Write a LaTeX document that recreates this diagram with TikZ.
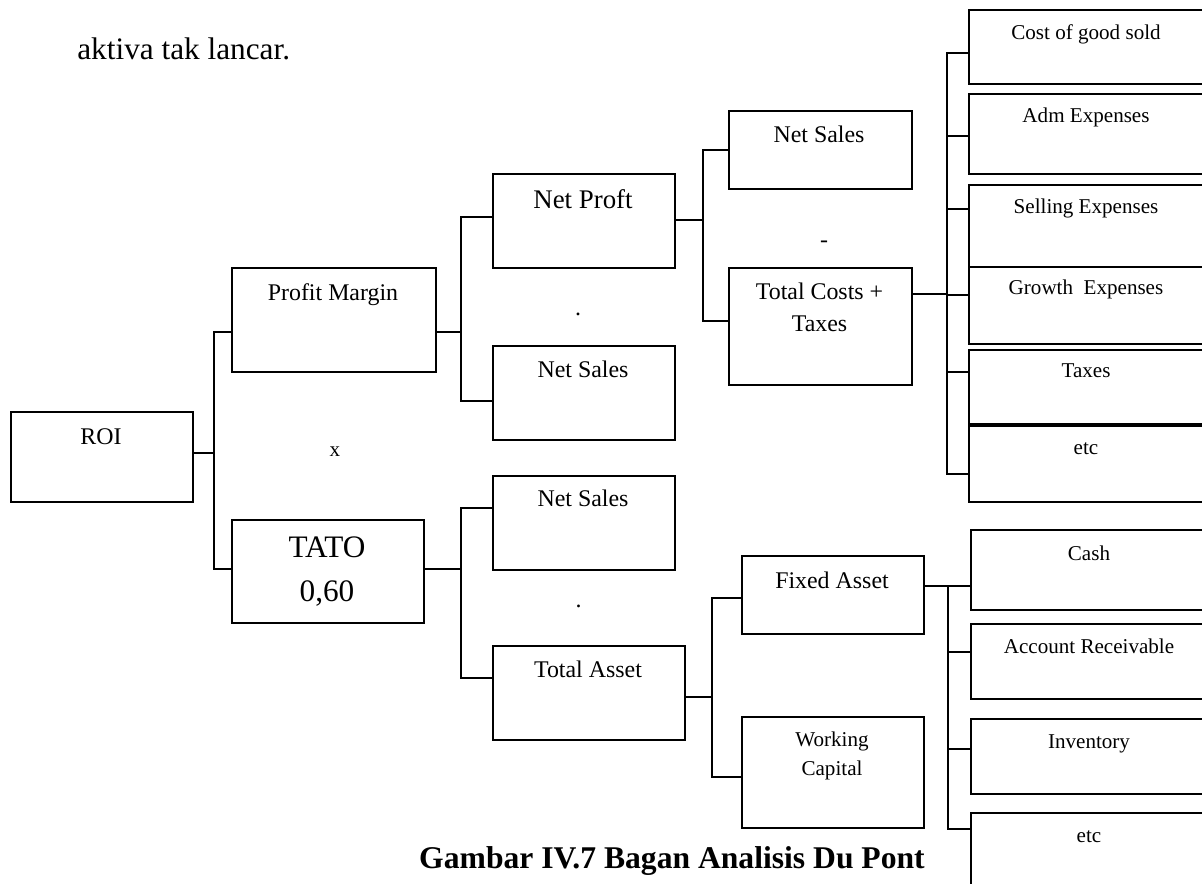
\documentclass[tikz,border=0pt]{standalone}
\usepackage{fontspec}
\setmainfont{Liberation Serif}
\newcommand{\pxl}{0.02cm}
\tikzset{
  box/.style n args={2}{draw, line width=1.1pt, inner sep=0pt, anchor=north west,
    minimum width=#1*\pxl, minimum height=#2*\pxl},
  conn/.style={line width=1.1pt, line cap=rect},
  txt/.style={inner sep=0pt, anchor=base},
  big/.style={txt, font=\fontsize{17.8}{24.5}\selectfont},
  npf/.style={txt, font=\fontsize{15.3}{20}\selectfont},
  mid/.style={txt, font=\fontsize{13.6}{18.6}\selectfont},
  sml/.style={txt, font=\fontsize{12}{16.5}\selectfont},
}
\begin{document}
\begin{tikzpicture}[x=\pxl, y=-\pxl]
\useasboundingbox (0,0) rectangle (1202,884);
\clip (0,0) rectangle (1202,884);
% boxes
\node[box={182}{90}] (roi) at (10,411) {};
\node[box={204}{104}] (pm) at (231,267) {};
\node[box={192}{103}] (tato) at (231,519) {};
\node[box={182}{94}] (netp) at (492,173) {};
\node[box={182}{94}] (ns1) at (492,345) {};
\node[box={182}{94}] (ns2) at (492,475) {};
\node[box={192}{94}] (tast) at (492,645) {};
\node[box={183}{78}] (nsr) at (728,110) {};
\node[box={183}{117}] (tc) at (728,267) {};
\node[box={182}{78}] (fa) at (741,555) {};
\node[box={182}{111}] (wc) at (741,716) {};
\node[box={240}{74}] (cogs) at (968,9) {};
\node[box={240}{80}] (adm) at (968,93) {};
\node[box={240}{82}] (sell) at (968,184) {};
\node[box={240}{77}] (grow) at (968,266) {};
\node[box={240}{74}] (tax) at (968,349) {};
\node[box={240}{76}] (etc1) at (968,425) {};
\node[box={240}{80}] (cash) at (970,529) {};
\node[box={240}{75}] (ar) at (970,623) {};
\node[box={240}{75}] (inv) at (970,718) {};
\node[box={240}{100}] (etc2) at (970,812) {};
% texts (two-line texts sit on their last baseline)
\node[big, anchor=base west] (akt) at (77,60) {aktiva tak lancar.};
\node[mid] (roiT) at (101,444) {ROI};
\node[mid] (pmT) at (333,301) {Profit Margin};
\node[big, align=center] (tatoT) at (327,601) {TATO\\0,60};
\node[npf] (netpT) at (583,209) {Net Proft};
\node[mid] (ns1T) at (583,378) {Net Sales};
\node[mid] (ns2T) at (583,506.7) {Net Sales};
\node[mid] (tastT) at (588,677) {Total Asset};
\node[mid] (nsrT) at (819,142.7) {Net Sales};
\node[mid, align=center] (tcT) at (819.5,331.7) {Total Costs +\\Taxes};
\node[mid] (faT) at (832,588) {Fixed Asset};
\node[sml, align=center] (wcT) at (832,775) {Working\\Capital};
\node[sml] (cogsT) at (1086,39.5) {Cost of good sold};
\node[sml] (admT) at (1086,122.5) {Adm Expenses};
\node[sml] (sellT) at (1086,213.5) {Selling Expenses};
\node[sml] (growT) at (1086,294.5) {Growth~~Expenses};
\node[sml] (taxT) at (1086,378) {Taxes};
\node[sml] (etc1T) at (1086,455) {etc};
\node[sml] (cashT) at (1089,560) {Cash};
\node[sml] (arT) at (1089,653) {Account Receivable};
\node[sml] (invT) at (1089,748) {Inventory};
\node[sml] (etc2T) at (1089,842) {etc};
% operators
\node[sml] (times) at (335,456.5) {x};
\node[mid] (dot1) at (578,316) {.};
\node[mid] (dot2) at (578.5,607) {.};
\node[mid] (minus) at (824,248) {-};
% caption
\node[txt, font=\bfseries\fontsize{18}{22}\selectfont] (cap) at (672,868) {Gambar IV.7 Bagan Analisis Du Pont};
% junctions on the bars
\coordinate (j-pm) at (214,332);
\coordinate (j-tato) at (214,569);
\coordinate (j-netp) at (461,217);
\coordinate (j-ns1) at (461,401);
\coordinate (j-ns2) at (461,508);
\coordinate (j-tast) at (461,678);
\coordinate (j-nsr) at (703,150);
\coordinate (j-tc) at (703,321);
\coordinate (j-cogs) at (947,53);
\coordinate (j-adm) at (947,136);
\coordinate (j-sell) at (947,209);
\coordinate (j-grow) at (947,295);
\coordinate (j-tax) at (947,372);
\coordinate (j-etc1) at (947,474);
\coordinate (j-fa) at (712,598);
\coordinate (j-wc) at (712,777);
\coordinate (j-cash) at (948,586);
\coordinate (j-ar) at (948,652);
\coordinate (j-inv) at (948,749);
\coordinate (j-etc2) at (948,829);
% outputs of the parents
\coordinate (o-roi) at (214,453);
\coordinate (o-pm) at (461,332);
\coordinate (o-tato) at (461,569);
\coordinate (o-netp) at (703,220);
\coordinate (o-tc) at (947,294);
\coordinate (o-tast) at (712,697);
\coordinate (o-fa) at (948,586);
% connectors
\foreach \nm in {pm,tato,netp,ns1,ns2,tast,nsr,tc,cogs,adm,sell,grow,tax,etc1,fa,wc,cash,ar,inv,etc2}
  \draw[conn] (\nm.west |- j-\nm) -- (j-\nm);
\foreach \nm in {roi,pm,tato,netp,tc,tast,fa}
  \draw[conn] (\nm.east |- o-\nm) -- (o-\nm);
\draw[conn] (j-pm) -- (j-tato);
\draw[conn] (j-netp) -- (j-ns1);
\draw[conn] (j-ns2) -- (j-tast);
\draw[conn] (j-nsr) -- (j-tc);
\draw[conn] (j-cogs) -- (j-etc1);
\draw[conn] (j-fa) -- (j-wc);
\draw[conn] (j-cash) -- (j-etc2);
\end{tikzpicture}
\end{document}
